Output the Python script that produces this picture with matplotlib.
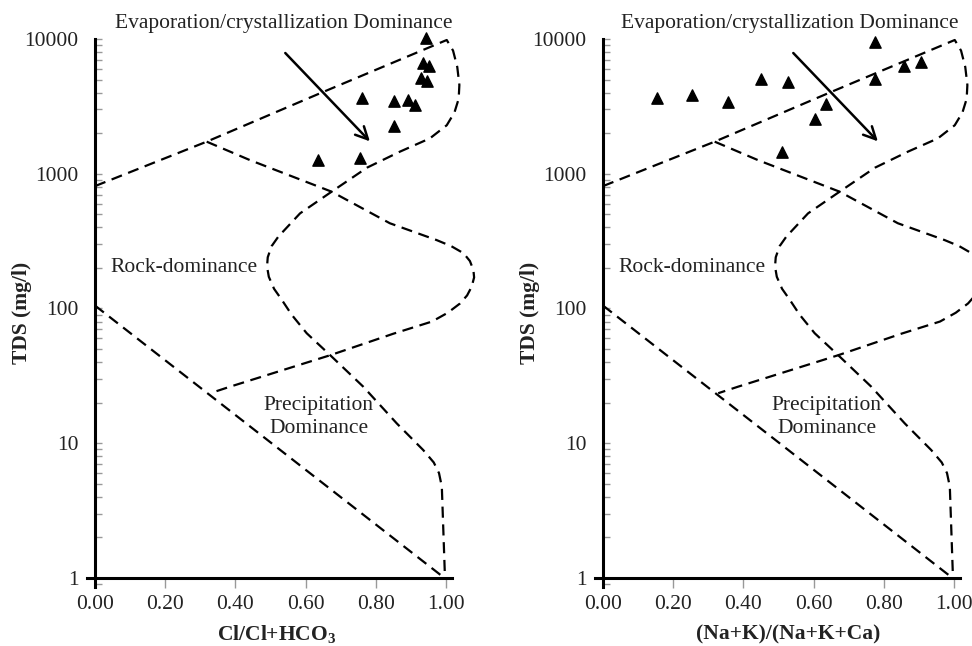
import matplotlib
matplotlib.use("Agg")
import matplotlib.pyplot as plt
from matplotlib.ticker import LogLocator, NullFormatter

plt.rcParams["font.family"] = ["Liberation Serif", "DejaVu Serif"]
plt.rcParams["mathtext.fontset"] = "custom"
plt.rcParams["mathtext.rm"] = "Liberation Serif"
plt.rcParams["mathtext.bf"] = "Liberation Serif:bold"

# ── Gibbs boundary curves (ratio, TDS mg/l) ──────────────────────────────────
outer_x = [0.000, 0.318, 0.641, 1.002, 1.020, 1.032, 1.038, 1.036, 1.024, 1.002,
           0.954, 0.869, 0.775, 0.674, 0.584, 0.522, 0.503, 0.492, 0.490, 0.495,
           0.510, 0.532, 0.560, 0.603, 0.670, 0.764, 0.860, 0.935, 0.965, 0.980,
           0.988, 0.997]
outer_y = [810, 1730, 3955, 9830, 8200, 6200, 4560, 3600, 2850, 2290,
           1830, 1460, 1110, 736, 508, 341, 290, 240, 205, 172,
           140, 116, 90, 65.5, 45, 26.3, 14, 8.9, 7.2, 6.0,
           4.76, 1.0]

lobe_x = [0.318, 0.442, 0.674, 0.840, 0.973, 1.015, 1.050, 1.068, 1.078, 1.080,
          1.073, 1.060, 1.040, 1.005, 0.960, 0.850, 0.670, 0.385, 0.328]
lobe_y = [1730, 1260, 736, 429, 322, 290, 257, 225, 193, 170,
          145, 125, 109, 93, 80, 65, 45, 26.3, 23.5]

lower_x = [0.0, 0.985]
lower_y = [105, 1.05]

# ── Samples ─────────────────────────────────────────────────────────────────
cl_ratio = [0.943, 0.935, 0.952, 0.930, 0.947, 0.761, 0.852, 0.893, 0.912,
            0.851, 0.636, 0.756]
cl_tds = [10200, 6600, 6300, 5100, 4880, 3630, 3470, 3550, 3250,
          2260, 1265, 1315]

na_ratio = [0.155, 0.254, 0.357, 0.451, 0.526, 0.509, 0.774, 0.858, 0.907,
            0.774, 0.634, 0.605]
na_tds = [3665, 3840, 3390, 5050, 4760, 1443, 9550, 6300, 6780,
          5030, 3296, 2535]

x_ticks = [0.0, 0.2, 0.4, 0.6, 0.8, 1.0]
x_ticklabels = ["0.00", "0.20", "0.40", "0.60", "0.80", "1.00"]
y_ticks = [1, 10, 100, 1000, 10000]
y_ticklabels = ["1", "10", "100", "1000", "10000"]

TXT = "#222222"
FS = 15.5


def draw_panel(ax, ratio, tds, xlabel, xlabel_x, top_x):
    ax.set_yscale("log")
    ax.set_xlim(-0.023, 1.017)
    ax.set_ylim(0.857, 10000)

    dash = dict(color="black", lw=1.6, linestyle=(0, (5, 3)), clip_on=False,
                solid_joinstyle="round")
    ax.plot(outer_x, outer_y, **dash)
    ax.plot(lobe_x, lobe_y, **dash)
    ax.plot(lower_x, lower_y, **dash)

    ax.scatter(ratio, tds, marker="^", s=66, color="black", zorder=5,
               clip_on=False)

    ax.annotate("", xy=(0.783, 1740), xytext=(0.542, 7870),
                arrowprops=dict(arrowstyle="->", lw=1.8, color="black",
                                mutation_scale=22, shrinkA=0, shrinkB=0))

    # spines crossing at (0, 1)
    for s in ("top", "right"):
        ax.spines[s].set_visible(False)
    ax.spines["left"].set_position(("data", 0))
    ax.spines["bottom"].set_position(("data", 1))
    for s in ("left", "bottom"):
        ax.spines[s].set_linewidth(2.2)

    ax.set_xticks(x_ticks)
    ax.set_xticklabels(x_ticklabels)
    ax.set_yticks(y_ticks)
    ax.set_yticklabels(y_ticklabels)
    ax.yaxis.set_minor_locator(LogLocator(base=10, subs=range(2, 10)))
    ax.yaxis.set_minor_formatter(NullFormatter())
    ax.tick_params(axis="x", direction="out", length=7, width=1,
                   color="#999999", labelsize=FS, labelcolor=TXT, pad=5)
    ax.tick_params(axis="y", which="both", direction="in", length=5, width=1,
                   color="#999999", labelsize=FS, labelcolor=TXT, pad=12)

    ax.text(-0.179, 0.5, "TDS (mg/l)", transform=ax.transAxes, rotation=90,
            ha="center", va="center", fontsize=FS, fontweight="bold", color=TXT)
    ax.text(xlabel_x, -0.087, xlabel, transform=ax.transAxes, ha="center",
            va="center", fontsize=FS, fontweight="bold", color=TXT)
    ax.text(top_x, 1.029, "Evaporation/crystallization Dominance",
            transform=ax.transAxes, ha="center", va="center", fontsize=FS,
            color=TXT)
    ax.text(0.043, 203, "Rock-dominance", ha="left", va="center",
            fontsize=FS, color=TXT)
    ax.text(0.637, 15.7, "Precipitation\nDominance", ha="center", va="center",
            fontsize=FS, color=TXT, linespacing=1.25)


fig = plt.figure(figsize=(9.72, 6.46), dpi=100)
ax1 = fig.add_axes([87 / 972, 59 / 646, 365 / 972, 548 / 646])
ax2 = fig.add_axes([595 / 972, 59 / 646, 365 / 972, 548 / 646])

draw_panel(ax1, cl_ratio, cl_tds, r"Cl/Cl+HCO$_\mathbf{3}$", 0.52, 0.538)
draw_panel(ax2, na_ratio, na_tds, "(Na+K)/(Na+K+Ca)", 0.529, 0.534)

fig.savefig("out.png", dpi=100)
plt.close(fig)
